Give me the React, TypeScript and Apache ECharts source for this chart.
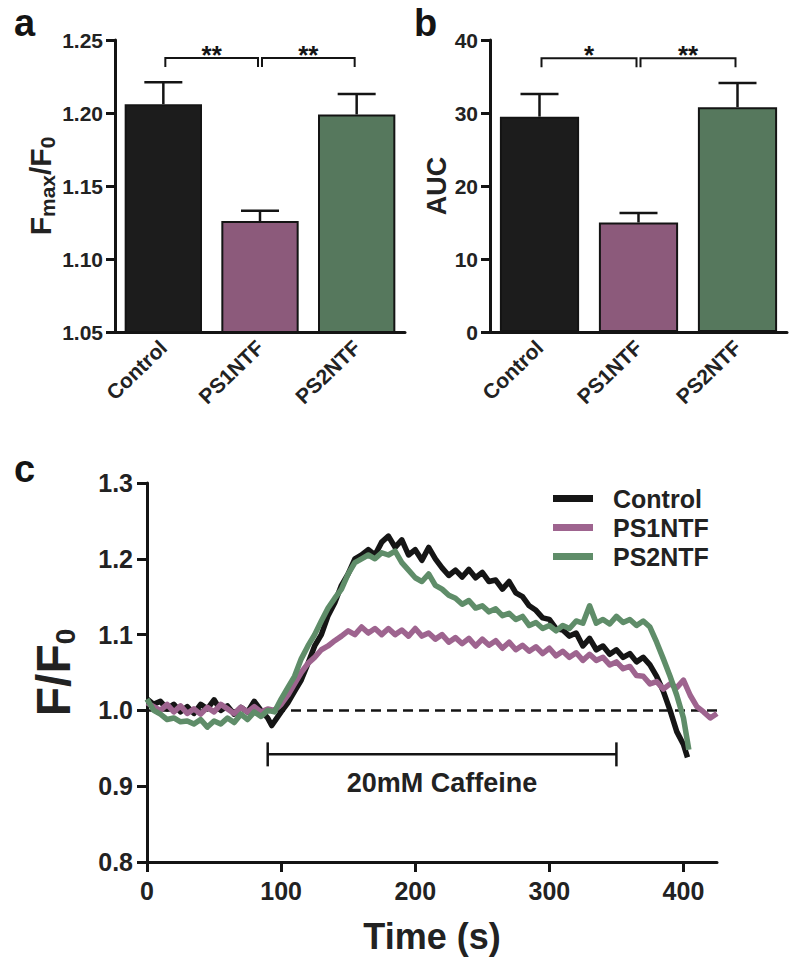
import React, { useEffect, useRef } from "react";
import * as echarts from "echarts";

const categories = ["Control", "PS1NTF", "PS2NTF"];
const fmaxMean = [1.206, 1.126, 1.199];
const fmaxErr = [0.015, 0.007, 0.014];
const aucMean = [29.5, 15.0, 30.8];
const aucErr = [3.1, 1.3, 3.3];
const fmaxBrackets = [[0, 1], [1, 2]];
const fmaxStars = ["**", "**"];
const fmaxBracketLevel = 1.2377;
const aucBrackets = [[0, 1], [1, 2]];
const aucStars = ["*", "**"];
const aucBracketLevel = 37.5;
const barColors = ["#1c1c1c", "#8c5a7b", "#56785d"];

const traceNames = ["Control", "PS1NTF", "PS2NTF"];
const traceColors = ["#151515", "#9e648f", "#5f8d69"];

const controlTrace = [
  [0, 1.015], [5, 1.008], [10, 1.012], [15, 1.002], [20, 1.008], [25, 0.998], [30, 1.005], [35, 0.996],
  [40, 1.008], [45, 1.002], [50, 1.014], [55, 1.0], [60, 1.006], [65, 0.995], [70, 1.004], [75, 0.998],
  [80, 1.012], [85, 1.0], [90, 0.99], [93, 0.98], [100, 0.998], [105, 1.01], [110, 1.025], [115, 1.04],
  [120, 1.062], [125, 1.085], [130, 1.1], [135, 1.125], [140, 1.142], [145, 1.165], [150, 1.18], [155, 1.2],
  [160, 1.205], [165, 1.212], [170, 1.205], [175, 1.222], [180, 1.23], [185, 1.215], [190, 1.225], [195, 1.205],
  [200, 1.212], [205, 1.198], [210, 1.215], [215, 1.2], [220, 1.188], [225, 1.178], [230, 1.185], [235, 1.176],
  [240, 1.186], [245, 1.175], [250, 1.182], [255, 1.17], [260, 1.172], [265, 1.16], [270, 1.17], [275, 1.155],
  [280, 1.15], [285, 1.138], [290, 1.132], [295, 1.122], [300, 1.12], [305, 1.108], [310, 1.106], [315, 1.098],
  [320, 1.102], [325, 1.085], [330, 1.095], [335, 1.08], [340, 1.085], [345, 1.074], [350, 1.08], [355, 1.07],
  [360, 1.075], [365, 1.064], [370, 1.07], [375, 1.06], [380, 1.045], [385, 1.025], [390, 1.0], [395, 0.972],
  [400, 0.955], [403, 0.938],
];

const ps1Trace = [
  [0, 1.01], [5, 1.005], [10, 1.0], [15, 1.008], [20, 0.998], [25, 1.006], [30, 0.996], [35, 1.002],
  [40, 0.995], [45, 1.004], [50, 0.998], [55, 1.008], [60, 1.002], [65, 0.996], [70, 1.004], [75, 0.998],
  [80, 1.005], [85, 0.998], [90, 1.002], [95, 1.0], [100, 1.008], [105, 1.02], [110, 1.035], [115, 1.05],
  [120, 1.062], [125, 1.07], [130, 1.08], [135, 1.085], [140, 1.092], [145, 1.098], [150, 1.105], [155, 1.1],
  [160, 1.11], [165, 1.102], [170, 1.108], [175, 1.1], [180, 1.108], [185, 1.1], [190, 1.106], [195, 1.098],
  [200, 1.108], [205, 1.098], [210, 1.102], [215, 1.094], [220, 1.1], [225, 1.09], [230, 1.096], [235, 1.088],
  [240, 1.095], [245, 1.085], [250, 1.094], [255, 1.086], [260, 1.092], [265, 1.082], [270, 1.09], [275, 1.08],
  [280, 1.086], [285, 1.078], [290, 1.084], [295, 1.075], [300, 1.082], [305, 1.072], [310, 1.078], [315, 1.07],
  [320, 1.076], [325, 1.066], [330, 1.074], [335, 1.066], [340, 1.07], [345, 1.06], [350, 1.064], [355, 1.055],
  [360, 1.058], [365, 1.046], [370, 1.045], [375, 1.035], [380, 1.038], [385, 1.028], [390, 1.035], [395, 1.03],
  [400, 1.04], [405, 1.02], [410, 1.005], [415, 0.998], [420, 0.99], [425, 0.996],
];

const ps2Trace = [
  [0, 1.015], [5, 1.0], [10, 0.995], [15, 0.988], [20, 0.99], [25, 0.985], [30, 0.986], [35, 0.982],
  [40, 0.988], [45, 0.978], [50, 0.986], [55, 0.982], [60, 0.99], [65, 0.984], [70, 0.995], [75, 0.988],
  [80, 0.998], [85, 0.992], [90, 1.0], [95, 0.998], [100, 1.015], [105, 1.03], [110, 1.045], [115, 1.068],
  [120, 1.085], [125, 1.1], [130, 1.118], [135, 1.135], [140, 1.148], [145, 1.16], [150, 1.18], [155, 1.195],
  [160, 1.2], [165, 1.205], [170, 1.2], [175, 1.208], [180, 1.205], [185, 1.21], [190, 1.195], [195, 1.185],
  [200, 1.175], [205, 1.17], [210, 1.18], [215, 1.165], [220, 1.16], [225, 1.152], [230, 1.148], [235, 1.14],
  [240, 1.145], [245, 1.135], [250, 1.138], [255, 1.13], [260, 1.134], [265, 1.125], [270, 1.128], [275, 1.12],
  [280, 1.124], [285, 1.112], [290, 1.116], [295, 1.108], [300, 1.112], [305, 1.105], [310, 1.112], [315, 1.108],
  [320, 1.118], [325, 1.115], [330, 1.138], [335, 1.115], [340, 1.12], [345, 1.114], [350, 1.124], [355, 1.116],
  [360, 1.12], [365, 1.112], [370, 1.118], [375, 1.11], [380, 1.09], [385, 1.068], [390, 1.045], [395, 1.02],
  [400, 0.99], [404, 0.948],
];

const baselineLevel = 1.0;
const baselineRange = [0, 425];
const caffeineStart = 90;
const caffeineEnd = 350;
const caffeineLevel = 0.942;
const caffeineLabel = "20mM Caffeine";

const FONT = "'Liberation Sans', Arial, Helvetica, sans-serif";
const INK = "#141414";

function errorSeries(axisIdx: number, means: number[], errs: number[]) {
  return {
    type: "custom",
    xAxisIndex: axisIdx,
    yAxisIndex: axisIdx,
    z: 4,
    silent: true,
    data: means.map((m, i) => [i, m, m + errs[i]]),
    encode: { x: 0, y: [1, 2] },
    renderItem: (params: any, api: any) => {
      const i = api.value(0);
      const p0 = api.coord([i, api.value(1)]);
      const p1 = api.coord([i, api.value(2)]);
      const hw = 19;
      const st = { stroke: INK, lineWidth: 2.5 };
      return {
        type: "group",
        children: [
          { type: "line", shape: { x1: p0[0], y1: p0[1], x2: p1[0], y2: p1[1] }, style: st },
          { type: "line", shape: { x1: p1[0] - hw, y1: p1[1], x2: p1[0] + hw, y2: p1[1] }, style: st },
        ],
      };
    },
  };
}

function bracketSeries(axisIdx: number, pairs: number[][], stars: string[], level: number) {
  return {
    type: "custom",
    xAxisIndex: axisIdx,
    yAxisIndex: axisIdx,
    z: 4,
    silent: true,
    clip: false,
    data: pairs.map((p) => [p[0], p[1], level]),
    encode: { x: [0, 1], y: 2 },
    renderItem: (params: any, api: any) => {
      const a = api.coord([api.value(0), api.value(2)]);
      const b = api.coord([api.value(1), api.value(2)]);
      const x1 = a[0] + 2;
      const x2 = b[0] - 2;
      const y = a[1];
      const drop = 9;
      const st = { stroke: INK, lineWidth: 2 };
      return {
        type: "group",
        children: [
          { type: "polyline", shape: { points: [[x1, y + drop], [x1, y], [x2, y], [x2, y + drop]] }, style: { ...st, fill: null } },
          {
            type: "text",
            style: {
              text: stars[params.dataIndex],
              x: (x1 + x2) / 2,
              y: y - 3,
              align: "center",
              verticalAlign: "middle",
              font: `bold 26px ${FONT}`,
              fill: INK,
            },
          },
        ],
      };
    },
  };
}

function barSeries(axisIdx: number, means: number[]) {
  return {
    type: "bar",
    xAxisIndex: axisIdx,
    yAxisIndex: axisIdx,
    barWidth: "80%",
    z: 2,
    data: means.map((m, i) => ({
      value: m,
      itemStyle: { color: barColors[i], borderColor: INK, borderWidth: 2 },
    })),
  };
}

function catAxis(gridIndex: number) {
  return {
    type: "category",
    gridIndex,
    data: categories,
    axisLine: { onZero: false, lineStyle: { color: INK, width: 3 } },
    axisTick: { alignWithLabel: true, length: 10, lineStyle: { color: INK, width: 3 } },
    axisLabel: {
      rotate: 44,
      fontSize: 21,
      fontWeight: "bold",
      fontFamily: FONT,
      color: "#222",
      margin: 12,
    },
  };
}

export default function App() {
  const ref = useRef<HTMLDivElement>(null);

  useEffect(() => {
    if (!ref.current) return;
    const chart = echarts.init(ref.current, undefined, { renderer: "svg" });

    const valAxisBase = {
      axisLine: { show: true, onZero: false, lineStyle: { color: INK, width: 3 } },
      axisTick: { show: true, length: 9, lineStyle: { color: INK, width: 3 } },
      splitLine: { show: false },
    };

    const option: any = {
      animation: false,
      backgroundColor: "#ffffff",
      textStyle: { fontFamily: FONT },
      grid: [
        { left: 115, top: 40, width: 290, height: 292 },
        { left: 490, top: 40, width: 297, height: 292 },
        { left: 147, top: 483, width: 570, height: 379 },
      ],
      legend: {
        data: traceNames,
        orient: "vertical",
        left: 548,
        top: 481,
        itemWidth: 40,
        itemHeight: 7,
        itemGap: 4,
        icon: "rect",
        textStyle: {
          fontSize: 25,
          fontWeight: "bold",
          fontFamily: FONT,
          color: "#222",
          padding: [0, 0, 0, 15],
        },
        selectedMode: false,
      },
      xAxis: [
        catAxis(0),
        catAxis(1),
        {
          type: "value",
          gridIndex: 2,
          min: 0,
          max: 425,
          interval: 100,
          ...valAxisBase,
          axisTick: { show: true, length: 10, lineStyle: { color: INK, width: 3 } },
          axisLabel: { fontSize: 25, fontWeight: "bold", fontFamily: FONT, color: "#222", margin: 16 },
          name: "Time (s)",
          nameLocation: "middle",
          nameGap: 56,
          nameTextStyle: { fontSize: 36, fontWeight: "bold", fontFamily: FONT, color: "#222" },
        },
      ],
      yAxis: [
        {
          type: "value",
          gridIndex: 0,
          min: 1.05,
          max: 1.25,
          interval: 0.05,
          ...valAxisBase,
          axisLabel: {
            fontSize: 21,
            fontWeight: "bold",
            fontFamily: FONT,
            color: "#222",
            margin: 12,
            formatter: (v: number) => v.toFixed(2),
          },
          name: "{m|F}{s|max}{m|/F}{s|0}",
          nameLocation: "middle",
          nameGap: 54,
          nameTextStyle: {
            rich: {
              m: { fontSize: 30, fontWeight: "bold", fontFamily: FONT, color: "#222", lineHeight: 36, verticalAlign: "middle" },
              s: { fontSize: 21, fontWeight: "bold", fontFamily: FONT, color: "#222", lineHeight: 12, verticalAlign: "bottom" },
            },
          },
        },
        {
          type: "value",
          gridIndex: 1,
          min: 0,
          max: 40,
          interval: 10,
          ...valAxisBase,
          axisLabel: { fontSize: 21, fontWeight: "bold", fontFamily: FONT, color: "#222", margin: 12 },
          name: "AUC",
          nameLocation: "middle",
          nameGap: 40,
          nameTextStyle: { fontSize: 27, fontWeight: "bold", fontFamily: FONT, color: "#222" },
        },
        {
          type: "value",
          gridIndex: 2,
          min: 0.8,
          max: 1.3,
          interval: 0.1,
          ...valAxisBase,
          axisTick: { show: true, length: 10, lineStyle: { color: INK, width: 3 } },
          axisLabel: {
            fontSize: 25,
            fontWeight: "bold",
            fontFamily: FONT,
            color: "#222",
            margin: 14,
            formatter: (v: number) => v.toFixed(1),
          },
          name: "{m|F/F}{s|0}",
          nameLocation: "middle",
          nameGap: 68,
          nameTextStyle: {
            rich: {
              m: { fontSize: 48, fontWeight: "bold", fontFamily: FONT, color: "#222", lineHeight: 52, verticalAlign: "middle" },
              s: { fontSize: 28, fontWeight: "bold", fontFamily: FONT, color: "#222", lineHeight: 24, verticalAlign: "bottom" },
            },
          },
        },
      ],
      graphic: [
        { type: "text", left: 14, top: 4, style: { text: "a", font: `bold 38px ${FONT}`, fill: INK } },
        { type: "text", left: 414, top: 4, style: { text: "b", font: `bold 38px ${FONT}`, fill: INK } },
        { type: "text", left: 14, top: 450, style: { text: "c", font: `bold 38px ${FONT}`, fill: INK } },
      ],
      series: [
        barSeries(0, fmaxMean),
        errorSeries(0, fmaxMean, fmaxErr),
        bracketSeries(0, fmaxBrackets, fmaxStars, fmaxBracketLevel),
        barSeries(1, aucMean),
        errorSeries(1, aucMean, aucErr),
        bracketSeries(1, aucBrackets, aucStars, aucBracketLevel),
        {
          type: "line",
          name: "baseline",
          xAxisIndex: 2,
          yAxisIndex: 2,
          z: 1,
          symbol: "none",
          silent: true,
          data: baselineRange.map((t) => [t, baselineLevel]),
          lineStyle: { color: INK, width: 2.5, type: [10, 6] },
        },
        ...[controlTrace, ps1Trace, ps2Trace].map((d, i) => ({
          type: "line",
          name: traceNames[i],
          xAxisIndex: 2,
          yAxisIndex: 2,
          z: 2 + i,
          symbol: "none",
          data: d,
          color: traceColors[i],
          lineStyle: { color: traceColors[i], width: 5.5, join: "round" },
        })),
        {
          type: "custom",
          xAxisIndex: 2,
          yAxisIndex: 2,
          z: 5,
          silent: true,
          clip: false,
          data: [[caffeineStart, caffeineEnd, caffeineLevel]],
          encode: { x: [0, 1], y: 2 },
          renderItem: (params: any, api: any) => {
            const a = api.coord([api.value(0), api.value(2)]);
            const b = api.coord([api.value(1), api.value(2)]);
            const st = { stroke: INK, lineWidth: 2.5 };
            const cap = 12;
            return {
              type: "group",
              children: [
                { type: "line", shape: { x1: a[0], y1: a[1], x2: b[0], y2: b[1] }, style: st },
                { type: "line", shape: { x1: a[0], y1: a[1] - cap, x2: a[0], y2: a[1] + cap }, style: st },
                { type: "line", shape: { x1: b[0], y1: b[1] - cap, x2: b[0], y2: b[1] + cap }, style: st },
                {
                  type: "text",
                  style: {
                    text: caffeineLabel,
                    x: (a[0] + b[0]) / 2,
                    y: a[1] + 29,
                    align: "center",
                    verticalAlign: "middle",
                    font: `bold 27px ${FONT}`,
                    fill: "#222",
                  },
                },
              ],
            };
          },
        },
      ],
    };

    chart.setOption(option);
    return () => chart.dispose();
  }, []);

  return (
    <div
      ref={ref}
      style={{ position: "absolute", left: 0, top: 0, width: 800, height: 965, background: "#fff" }}
    />
  );
}
